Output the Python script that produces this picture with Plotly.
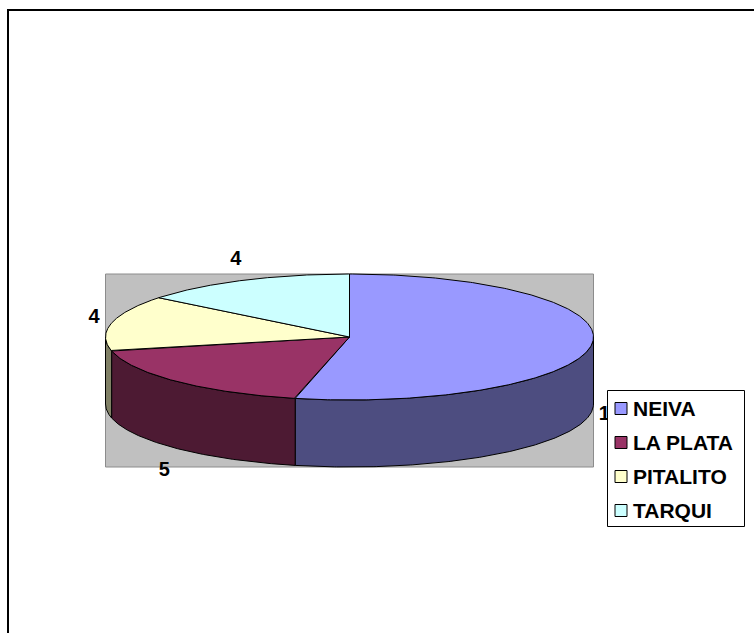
import numpy as np
import plotly.graph_objects as go

# ---- data ----
categories = ["NEIVA", "LA PLATA", "PITALITO", "TARQUI"]
values = [15, 5, 4, 4]
top_colors = ["#9999FF", "#993366", "#FFFFCC", "#CCFFFF"]
side_colors = ["#4D4D80", "#4D1A33", "#808066", "#668080"]

# ---- geometry of the 3D pie (pixel space) ----
W, H = 754, 633
cx, cy = 349.5, 337.0
a, b = 244.0, 63.0
depth = 67.0
FONT = "Liberation Sans, Arial, sans-serif"

def ell(t_deg, dy=0.0, ra=a, rb=b):
    t = np.radians(t_deg)
    return cx + ra * np.sin(t), cy - rb * np.cos(t) + dy

total = float(sum(values))
bounds = np.concatenate([[0.0], np.cumsum(values) / total * 360.0])

fig = go.Figure()

# plot-area background (bounding box of the pie)
fig.add_shape(type="rect", xref="x", yref="y",
              x0=cx - a, x1=cx + a, y0=cy - b, y1=cy + b + depth,
              fillcolor="#C0C0C0", line=dict(color="#8C8C8C", width=1),
              layer="below")

# side walls (front half only: 90..270 degrees)
for i in range(len(values)):
    t0, t1 = max(bounds[i], 90.0), min(bounds[i + 1], 270.0)
    if t1 <= t0:
        continue
    ts = np.linspace(t0, t1, 200)
    xt, yt = ell(ts)
    xb, yb = ell(ts[::-1], dy=depth)
    xs = np.concatenate([xt, xb, xt[:1]])
    ys = np.concatenate([yt, yb, yt[:1]])
    fig.add_trace(go.Scatter(x=xs, y=ys, mode="lines", fill="toself",
                             fillcolor=side_colors[i],
                             line=dict(color="black", width=1),
                             hoverinfo="skip", showlegend=False))

# top faces
for i in range(len(values)):
    ts = np.linspace(bounds[i], bounds[i + 1], 300)
    xe, ye = ell(ts)
    xs = np.concatenate([[cx], xe, [cx]])
    ys = np.concatenate([[cy], ye, [cy]])
    fig.add_trace(go.Scatter(x=xs, y=ys, mode="lines", fill="toself",
                             fillcolor=top_colors[i],
                             line=dict(color="black", width=1),
                             hoverinfo="skip", showlegend=False))

# data labels (outside the pie, along each slice's middle angle)
mids = (bounds[:-1] + bounds[1:]) / 2.0
lx, ly = [], []
for m in mids:
    x, y = ell(m, ra=a + 18, rb=b + 22)
    c = np.cos(np.radians(m))
    if c < 0:
        y += depth + 10 * (-c)
    lx.append(x)
    ly.append(y)
fig.add_trace(go.Scatter(x=lx, y=ly, mode="text",
                         text=[str(v) for v in values],
                         textfont=dict(family=FONT, size=20, color="black", weight="bold"),
                         hoverinfo="skip", showlegend=False))

# ---- legend (box, swatches, labels) ----
lg_x0, lg_y0, lg_x1, lg_y1 = 607.5, 390.5, 744.5, 526.5
row_h = (lg_y1 - lg_y0) / len(categories)
sw = 12
fig.add_shape(type="rect", xref="x", yref="y", x0=lg_x0, x1=lg_x1, y0=lg_y0, y1=lg_y1,
              fillcolor="white", line=dict(color="black", width=1), layer="above")
for i, c in enumerate(categories):
    yc = lg_y0 + row_h * (i + 0.5) + 1
    fig.add_shape(type="rect", xref="x", yref="y",
                  x0=lg_x0 + 7.5, x1=lg_x0 + 7.5 + sw, y0=yc - sw / 2, y1=yc + sw / 2,
                  fillcolor=top_colors[i], line=dict(color="black", width=1), layer="above")
    fig.add_annotation(x=lg_x0 + 23, y=yc, xref="x", yref="y", text=c,
                       showarrow=False, xanchor="left", yanchor="middle",
                       font=dict(family=FONT, size=21, color="black", weight="bold"))

# outer chart border (only left/top visible)
fig.add_shape(type="rect", xref="x", yref="y", x0=8, x1=W + 20, y0=10, y1=H + 20,
              line=dict(color="black", width=2), fillcolor="rgba(0,0,0,0)")

fig.update_layout(
    width=W, height=H,
    margin=dict(l=0, r=0, t=0, b=0),
    paper_bgcolor="white", plot_bgcolor="white",
    xaxis=dict(range=[0, W], visible=False, fixedrange=True),
    yaxis=dict(range=[H, 0], visible=False, fixedrange=True),
    showlegend=False,
)

fig.write_html("out.html")
